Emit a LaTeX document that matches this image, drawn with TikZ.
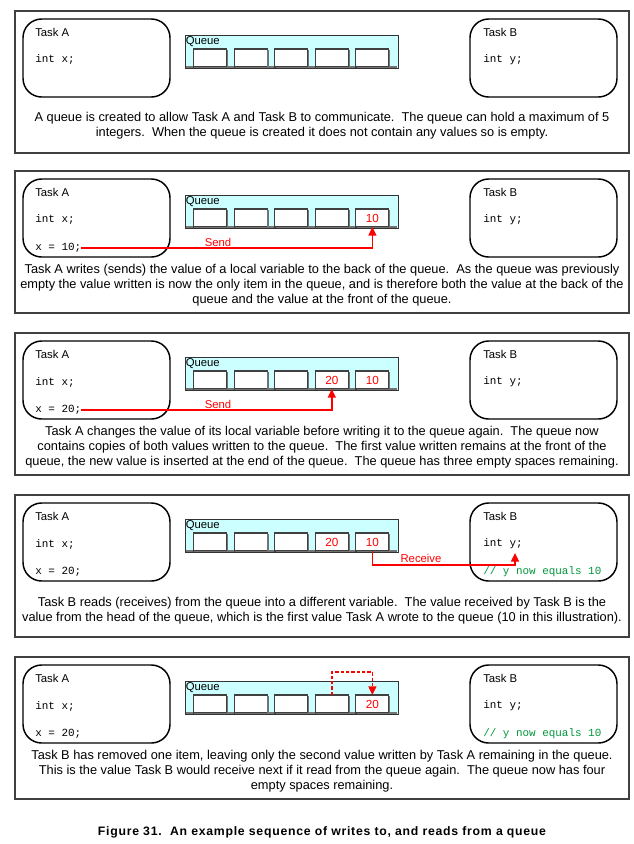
\documentclass[tikz,border=0pt]{standalone}
\usepackage{fontspec}
\setmainfont{Liberation Sans}
\setmonofont{Liberation Mono}
\usetikzlibrary{arrows.meta}
\definecolor{qcyan}{RGB}{204,255,255}
\definecolor{cgreen}{RGB}{0,150,60}
\tikzset{
  panelbox/.style={draw=black!75, line width=1pt, minimum width=460.5pt, minimum height=106.5pt, inner sep=0pt, outer sep=0pt},
  taskbox/.style={draw=black, line width=1.1pt, rounded corners=14pt, minimum width=110.25pt, minimum height=58.5pt, inner sep=0pt, outer sep=0pt},
  queuebox/.style={draw=black!80, line width=0.75pt, fill=qcyan, minimum width=159.75pt, minimum height=24.75pt, inner sep=0pt, outer sep=0pt},
  cellbox/.style={draw=black!75, line width=0.8pt, fill=white, minimum width=24.75pt, minimum height=13.5pt, inner sep=0pt, outer sep=0pt},
  shadowline/.style={draw=black!55, line width=1.2pt},
  lbl/.style={anchor=west, inner sep=0pt, font=\fontsize{8.5}{10}\selectfont},
  code/.style={anchor=west, inner sep=0pt, font=\ttfamily\fontsize{8.2}{9}\selectfont},
  gcode/.style={code, text=cgreen},
  val/.style={inner sep=0pt, text=red, font=\fontsize{8.8}{10}\selectfont},
  redlbl/.style={inner sep=0pt, text=red, font=\fontsize{8.5}{10}\selectfont},
  body/.style={align=center, inner sep=0pt, font=\fontsize{9.6}{11.25}\selectfont},
  sendarrow/.style={draw=red, line width=1.1pt, -{Triangle[length=6.5pt,width=6pt]}},
  movearrow/.style={sendarrow, dash pattern=on 2.5pt off 1.5pt}
}
\newcommand{\qskel}[2]{%
\begin{scope}[shift={(0,#2)}]
 \node[panelbox] (P#1) at (322,71) {};
 \node[taskbox] (A#1) at (96.5,47) {};
 \node[taskbox] (B#1) at (543.5,47) {};
 \node[lbl] (tA#1) at (35,21) {Task A};
 \node[code] (xA#1) at (35,49) {int x;};
 \node[lbl] (tB#1) at (483,21) {Task B};
 \node[code] (yB#1) at (483,49) {int y;};
 \node[queuebox] (Q#1) at (291.5,40.5) {};
 \draw[shadowline] ([xshift=0.5pt,yshift=0.6pt]Q#1.south west) -- ([xshift=-0.5pt,yshift=0.6pt]Q#1.south east);
 \node[lbl] (qL#1) at (185.5,31) {Queue};
 \foreach \i in {1,...,5} {%
   \node[cellbox] (c#1-\i) at ({210+40.6*(\i-1)},47) {};
   \draw[shadowline, line width=0.9pt] ([xshift=0.6pt,yshift=-0.6pt]c#1-\i.south west) -- ([xshift=0.6pt,yshift=-0.6pt]c#1-\i.south east) -- ([xshift=0.6pt,yshift=-0.6pt]c#1-\i.north east);
 }
\end{scope}}
\begin{document}
\begin{tikzpicture}[x=0.75pt,y=-0.75pt]
\useasboundingbox (0,0) rectangle (634,844);
% Panel 1
\qskel{1}{11}
\node[body] (T1) at (322,125.5) {A queue is created to allow Task A and Task B to communicate.~~The queue can hold a maximum of 5\\integers.~~When the queue is created it does not contain any values so is empty.};
% Panel 2
\qskel{2}{171}
\node[code] (xv2) at (35,248) {x = 10;};
\node[val] (v2-5) at (c2-5) {10};
\node[redlbl] (s2) at (218,242) {Send};
\draw[sendarrow] (xv2.east) -| (c2-5.south);
\node[body] (T2) at (322,285) {Task A writes (sends) the value of a local variable to the back of the queue.~~As the queue was previously\\empty the value written is now the only item in the queue, and is therefore both the value at the back of the\\queue and the value at the front of the queue.};
% Panel 3
\qskel{3}{333}
\node[code] (xv3) at (35,410) {x = 20;};
\node[val] (v3-4) at (c3-4) {20};
\node[val] (v3-5) at (c3-5) {10};
\node[redlbl] (s3) at (218,404) {Send};
\draw[sendarrow] (xv3.east) -| (c3-4.south);
\node[body] (T3) at (322,447) {Task A changes the value of its local variable before writing it to the queue again.~~The queue now\\contains copies of both values written to the queue.~~The first value written remains at the front of the\\queue, the new value is inserted at the end of the queue.~~The queue has three empty spaces remaining.};
% Panel 4
\qskel{4}{495}
\node[code] (xv4) at (35,572) {x = 20;};
\node[val] (v4-4) at (c4-4) {20};
\node[val] (v4-5) at (c4-5) {10};
\node[gcode] (g4) at (483,572) {// y now equals 10};
\node[redlbl] (r4) at (421,558) {Receive};
\coordinate (rt4) at (515,553);
\draw[sendarrow] (c4-5.south) -- ++(0,14) -| (rt4);
\node[body] (T4) at (322,610.5) {Task B reads (receives) from the queue into a different variable.~~The value received by Task B is the\\value from the head of the queue, which is the first value Task A wrote to the queue (10 in this illustration).};
% Panel 5
\qskel{5}{657}
\node[code] (xv5) at (35,734) {x = 20;};
\node[val] (v5-5) at (c5-5) {20};
\node[gcode] (g5) at (483,734) {// y now equals 10};
\draw[movearrow] (c5-4.north) -- ++(0,-23) -| (c5-5.north);
\node[body] (T5) at (322,771) {Task B has removed one item, leaving only the second value written by Task A remaining in the queue.\\This is the value Task B would receive next if it read from the queue again.~~The queue now has four\\empty spaces remaining.};
% Caption
\node[inner sep=0pt, font=\bfseries\fontsize{9.2}{10}\selectfont\addfontfeature{LetterSpace=6}] (cap) at (322,832) {Figure 31.~~An example sequence of writes to, and reads from a queue};
\end{tikzpicture}
\end{document}
